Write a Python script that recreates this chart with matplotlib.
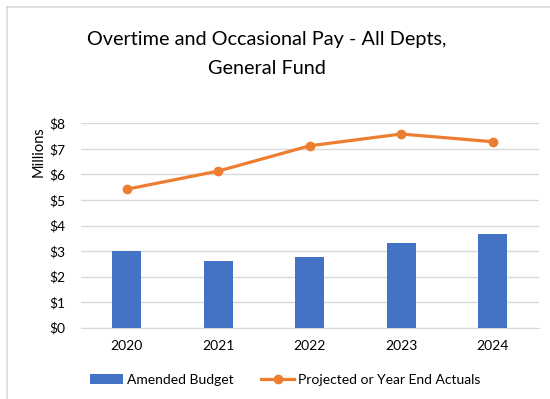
import matplotlib
matplotlib.use("Agg")
import matplotlib.pyplot as plt
from matplotlib.lines import Line2D
from matplotlib.ticker import FuncFormatter

years = ["2020", "2021", "2022", "2023", "2024"]
amended_budget = [3.00, 2.62, 2.77, 3.30, 3.67]
projected_actuals = [5.42, 6.13, 7.12, 7.58, 7.28]
yticks = [0, 1, 2, 3, 4, 5, 6, 7, 8]

plt.rcParams['font.family'] = ['Lato', 'DejaVu Sans']

W, H = 550, 399
fig = plt.figure(figsize=(W / 100, H / 100), dpi=100)

# chart frame
fig.add_artist(Line2D([6.5 / W, 6.5 / W], [0, 1 - 6.5 / H], color="#d9d9d9", lw=1.2, transform=fig.transFigure))
fig.add_artist(Line2D([6.5 / W, 1], [1 - 6.5 / H, 1 - 6.5 / H], color="#d9d9d9", lw=1.2, transform=fig.transFigure))

ax = fig.add_axes([81 / W, 71.3 / H, 457.5 / W, 204.4 / H])
x = list(range(len(years)))
bars = ax.bar(x, amended_budget, width=0.32, color="#4472C4", zorder=2, label="Amended Budget")
line, = ax.plot(x, projected_actuals, color="#ED7D31", lw=2.3, marker="o", markersize=6,
                zorder=3, label="Projected or Year End Actuals")

ax.set_xlim(-0.5, len(years) - 0.5)
ax.set_ylim(0, 8)
ax.set_yticks(yticks)
ax.yaxis.set_major_formatter(FuncFormatter(lambda v, p: f"${int(v)}"))
ax.set_xticks(x)
ax.set_xticklabels(years)
ax.grid(axis="y", color="#d9d9d9", lw=1.0, zorder=0)
ax.tick_params(axis="both", length=0, labelsize=10, colors="#000000")
ax.tick_params(axis="x", pad=9)
ax.tick_params(axis="y", pad=11)
for s in ["top", "right", "left"]:
    ax.spines[s].set_visible(False)
ax.spines["bottom"].set_color("#d9d9d9")
ax.spines["bottom"].set_zorder(0)
ax.set_ylabel("Millions", fontsize=10.5, labelpad=4)
ax.yaxis.set_label_coords(-0.078, 0.86)

fig.text(267 / W, 1 - 54 / H, "Overtime and Occasional Pay - All Depts,\nGeneral Fund",
         ha="center", va="center", fontsize=14.3, linespacing=1.85)

fig.legend(handles=[bars, line], loc="center", bbox_to_anchor=(285 / W, 1 - 380 / H), ncol=2,
           frameon=False, fontsize=10, handlelength=2.4, handletextpad=0.25, columnspacing=2.0)

fig.savefig("out.png", dpi=100)
